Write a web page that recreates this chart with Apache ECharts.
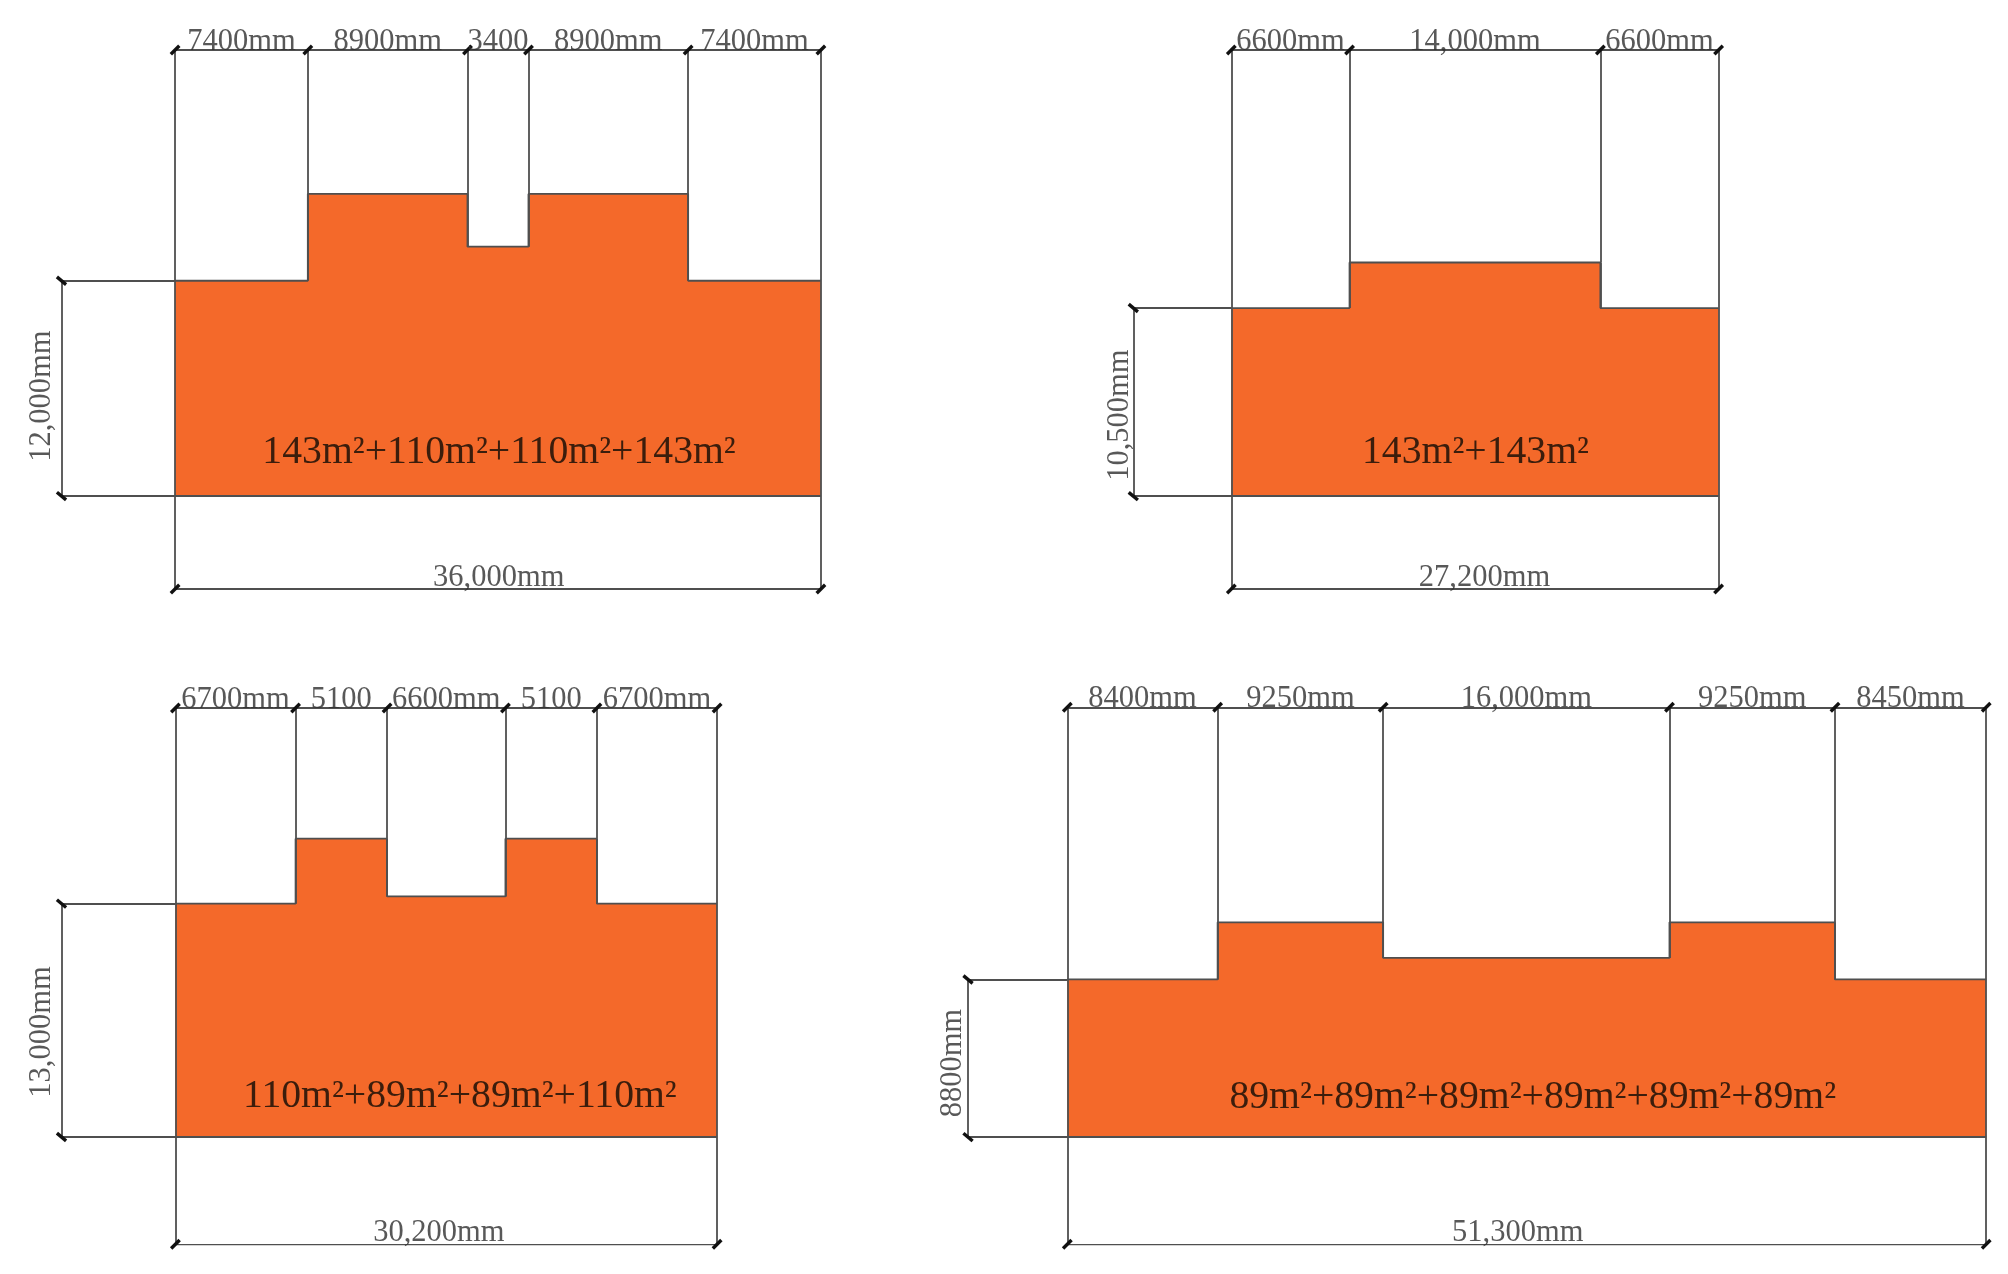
<!DOCTYPE html>
<html>
<head>
<meta charset="utf-8">
<title>Floor plans</title>
<script src="https://cdn.jsdelivr.net/npm/echarts@6/dist/echarts.min.js"></script>
<style>
html, body { margin: 0; padding: 0; background: #fff; }
#chart { width: 2008px; height: 1274px; }
</style>
</head>
<body>
<div id="chart"></div>
<script>
// widths and heights of each block, in mm
const widthsA = [7400, 8900, 3400, 8900, 7400]
const heightsA = [12000, 16840, 13900, 16840, 12000]
const topTextA = ['7400mm', '8900mm', '3400', '8900mm', '7400mm']

const widthsB = [6600, 14000, 6600]
const heightsB = [10500, 13040, 10500]
const topTextB = ['6600mm', '14,000mm', '6600mm']

const widthsC = [6700, 5100, 6600, 5100, 6700]
const heightsC = [13000, 16620, 13400, 16620, 13000]
const topTextC = ['6700mm', '5100', '6600mm', '5100', '6700mm']

const widthsD = [8400, 9250, 16000, 9250, 8450]
const heightsD = [8800, 11990, 10000, 11990, 8800]
const topTextD = ['8400mm', '9250mm', '16,000mm', '9250mm', '8450mm']

// [text, x in mm, y in mm]
const areaTextA = ['143m²+110m²+110m²+143m²', 18060, 2450]
const areaTextB = ['143m²+143m²', 13630, 2450]
const areaTextC = ['110m²+89m²+89m²+110m²', 15860, 2230]
const areaTextD = ['89m²+89m²+89m²+89m²+89m²+89m²', 26010, 2230]

// [text, y in mm]
const sideTextA = ['12,000mm', 5570]
const sideTextB = ['10,500mm', 4520]
const sideTextC = ['13,000mm', 5850]
const sideTextD = ['8800mm', 4130]

// [text, x in mm]
const bottomTextA = ['36,000mm', 18040]
const bottomTextB = ['27,200mm', 14130]
const bottomTextC = ['30,200mm', 14690]
const bottomTextD = ['51,300mm', 25170]

// how far the dimension lines sit from the building, in mm
const topLevels = [24860, 24900, 23900, 23990]
const bottomOffsets = [5180, 5180, 5980, 5980]
const leftOffsets = [6330, 5470, 6350, 5550]

const panels = [
    { widths: widthsA, heights: heightsA, topText: topTextA, areaText: areaTextA, sideText: sideTextA, bottomText: bottomTextA, sideShift: -4, box: { left: 61.5, top: 50, width: 759.4, height: 539 } },
    { widths: widthsB, heights: heightsB, topText: topTextB, areaText: areaTextB, sideText: sideTextB, bottomText: bottomTextB, sideShift: 2.5, box: { left: 1133.3, top: 50, width: 585.3, height: 539 } },
    { widths: widthsC, heights: heightsC, topText: topTextC, areaText: areaTextC, sideText: sideTextC, bottomText: bottomTextC, sideShift: -4, box: { left: 61.5, top: 708, width: 655.6, height: 536.3 } },
    { widths: widthsD, heights: heightsD, topText: topTextD, areaText: areaTextD, sideText: sideTextD, bottomText: bottomTextD, sideShift: 0, box: { left: 968, top: 707.3, width: 1018.2, height: 537 } }
]

const font = '"Liberation Serif", serif'
const lineColor = '#4f4f4f'
const fillColor = '#f4692a'

const grid = []
const xAxis = []
const yAxis = []
const series = []

panels.forEach((p, i) => {
    const top = topLevels[i]
    const low = -bottomOffsets[i]
    const side = -leftOffsets[i]

    // running x position of every wall
    const walls = [0]
    p.widths.forEach(w => walls.push(walls[walls.length - 1] + w))
    const total = walls[walls.length - 1]

    // stepped outline of the block
    const outline = []
    p.heights.forEach((h, k) => {
        outline.push([walls[k], h])
        outline.push([walls[k + 1], h])
    })

    grid.push(p.box)
    xAxis.push({ type: 'value', gridIndex: i, min: side, max: total, show: false })
    yAxis.push({ type: 'value', gridIndex: i, min: low, max: top, show: false })

    const axes = { xAxisIndex: i, yAxisIndex: i }

    //填充区域
    series.push({
        ...axes,
        type: 'line',
        data: outline,
        symbol: 'none',
        silent: true,
        lineStyle: { color: lineColor, width: 1.8 },
        areaStyle: { color: fillColor, opacity: 1, origin: 0 }
    })

    //尺寸线
    const dimLines = [
        { coords: [[0, top], [total, top]] },
        { coords: [[0, low], [total, low]] },
        { coords: [[side, 0], [total, 0]] },
        { coords: [[side, p.heights[0]], [0, p.heights[0]]] },
        { coords: [[side, 0], [side, p.heights[0]]] },
        { coords: [[0, low], [0, top]] },
        { coords: [[total, low], [total, top]] }
    ]
    walls.slice(1, -1).forEach((x, k) => {
        const h = Math.max(p.heights[k], p.heights[k + 1])
        dimLines.push({ coords: [[x, h], [x, top]] })
        dimLines.push({ coords: [[x, Math.min(p.heights[k], p.heights[k + 1])], [x, h]] })
    })
    series.push({
        ...axes,
        type: 'lines',
        coordinateSystem: 'cartesian2d',
        silent: true,
        zlevel: 0,
        z: 3,
        lineStyle: { color: lineColor, width: 1.8, opacity: 1 },
        data: dimLines
    })

    //斜杠
    const slash = (data, rotate) => ({
        ...axes,
        type: 'scatter',
        data,
        silent: true,
        z: 4,
        symbol: 'rect',
        symbolSize: [3.4, 12],
        symbolRotate: rotate,
        itemStyle: { color: '#111', opacity: 1 }
    })
    series.push(slash(walls.map(x => [x, top]).concat([[0, low], [total, low]]), -45))
    series.push(slash([[side, 0], [side, p.heights[0]]], 50))

    //文字
    const texts = (data, label) => ({
        ...axes,
        type: 'scatter',
        data,
        silent: true,
        z: 5,
        symbolSize: 0,
        label: {
            show: true,
            fontFamily: font,
            formatter: item => item.value[2],
            ...label
        }
    })
    const dimColor = '#2e2e2e'
    const dimSize = 30.5
    series.push(texts(p.topText.map((t, k) => [(walls[k] + walls[k + 1]) / 2, top, t]), {
        position: 'top', distance: 0, offset: [0, 7], color: dimColor, fontSize: dimSize
    }))
    series.push(texts([[p.bottomText[1], low, p.bottomText[0]]], {
        position: 'top', distance: 0, offset: [0, 4], color: dimColor, fontSize: dimSize
    }))
    // offset turns with the rotated text, so its y moves the label sideways
    series.push(texts([[side, p.sideText[1], p.sideText[0]]], {
        position: 'inside',
        rotate: 90,
        align: 'center',
        verticalAlign: 'bottom',
        offset: [0, p.sideShift],
        color: dimColor,
        fontSize: dimSize
    }))
    series.push(texts([[p.areaText[1], p.areaText[2], p.areaText[0]]], {
        position: 'inside',
        align: 'center',
        verticalAlign: 'middle',
        color: '#0d0a05',
        fontSize: 39.7
    }))
})

const mychart = echarts.init(document.getElementById('chart'), null, { renderer: 'canvas' })
mychart.setOption({
    animation: false,
    backgroundColor: '#fff',
    grid,
    xAxis,
    yAxis,
    series
})
</script>
</body>
</html>
